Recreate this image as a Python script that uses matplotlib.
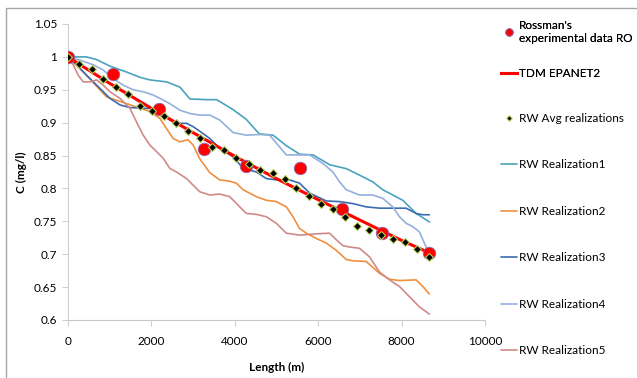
import matplotlib
matplotlib.use("Agg")
import matplotlib.pyplot as plt
from matplotlib.patches import Rectangle

plt.rcParams['font.family'] = ['Lato', 'DejaVu Sans']

# Rossman's experimental data
ro_x = [0, 1084, 2177, 3261, 4282, 5557, 6570, 7527, 8651]
ro_y = [1.0, 0.974, 0.921, 0.860, 0.834, 0.831, 0.768, 0.733, 0.702]

# TDM EPANET2
tdm_x = [0, 1000, 2000, 3000, 4000, 5000, 6000, 7000, 8000, 8667]
tdm_y = [1.0, 0.960, 0.922, 0.885, 0.849, 0.815, 0.783, 0.752, 0.721, 0.702]

# RW average of realizations
avg_x = [0, 278, 574, 852, 1155, 1450, 1730, 2024, 2304, 2591, 2885, 3165, 3459,
         3747, 4026, 4337, 4617, 4911, 5199, 5478, 5773, 6060, 6355, 6651, 6929,
         7215, 7512, 7790, 8086, 8373, 8651]
avg_y = [1.0, 0.989, 0.982, 0.967, 0.954, 0.944, 0.925, 0.917, 0.910, 0.900, 0.887,
         0.876, 0.863, 0.858, 0.846, 0.837, 0.828, 0.823, 0.814, 0.801, 0.788, 0.776,
         0.768, 0.756, 0.743, 0.737, 0.729, 0.723, 0.719, 0.708, 0.696]

r1_x = [0, 450, 690, 1010, 1410, 1730, 1970, 2370, 2690, 2930, 3330, 3570, 3960, 4280,
        4590, 4920, 5240, 5560, 5880, 6280, 6680, 7000, 7310, 7550, 8030, 8350, 8670]
r1_y = [1.0, 1.0, 0.996, 0.986, 0.977, 0.969, 0.965, 0.962, 0.954, 0.936, 0.935, 0.935,
        0.920, 0.905, 0.883, 0.881, 0.865, 0.852, 0.851, 0.836, 0.830, 0.820, 0.810,
        0.798, 0.782, 0.762, 0.749]

r2_x = [0, 450, 933, 1172, 1411, 1730, 1969, 2208, 2368, 2526, 2687, 2885, 3005, 3165,
        3404, 3643, 3883, 4042, 4201, 4521, 4760, 5000, 5239, 5398, 5557, 5718, 5957,
        6196, 6435, 6675, 6833, 7152, 7471, 7710, 7950, 8349, 8508, 8667]
r2_y = [1.0, 0.972, 0.939, 0.934, 0.929, 0.922, 0.917, 0.9065, 0.891, 0.876, 0.871,
        0.874, 0.866, 0.845, 0.824, 0.813, 0.811, 0.808, 0.798, 0.7875, 0.782, 0.780,
        0.772, 0.757, 0.739, 0.732, 0.724, 0.717, 0.706, 0.692, 0.690, 0.689, 0.671,
        0.662, 0.660, 0.661, 0.651, 0.6395]

r3_x = [0, 215, 455, 694, 1012, 1251, 1490, 1969, 2129, 2287, 2447, 2608, 2847, 3005,
        3165, 3404, 3643, 3962, 4201, 4521, 4760, 5000, 5318, 5557, 5797, 6196, 6515,
        6833, 7152, 7471, 8110, 8349, 8508, 8667]
r3_y = [1.0, 0.988, 0.972, 0.957, 0.937, 0.927, 0.923, 0.9215, 0.921, 0.914, 0.904,
        0.899, 0.899, 0.894, 0.887, 0.876, 0.861, 0.848, 0.831, 0.825, 0.815, 0.813,
        0.813, 0.808, 0.793, 0.781, 0.780, 0.777, 0.772, 0.770, 0.770, 0.762, 0.760,
        0.760]

r4_x = [0, 294, 612, 852, 1091, 1330, 1569, 1809, 2048, 2208, 2447, 2687, 2926, 3165,
        3404, 3643, 3962, 4282, 4600, 4840, 5079, 5239, 5478, 5797, 6115, 6355, 6515,
        6675, 6993, 7311, 7550, 7790, 7950, 8110, 8268, 8428, 8588, 8667]
r4_y = [1.0, 0.995, 0.988, 0.980, 0.967, 0.957, 0.950, 0.947, 0.942, 0.937, 0.929,
        0.919, 0.914, 0.9115, 0.9115, 0.904, 0.885, 0.881, 0.882, 0.881, 0.863, 0.851,
        0.851, 0.851, 0.838, 0.825, 0.810, 0.798, 0.790, 0.790, 0.785, 0.772, 0.757,
        0.747, 0.742, 0.734, 0.711, 0.704]

r5_x = [0, 135, 254, 373, 533, 694, 852, 1012, 1251, 1490, 1650, 1809, 1969, 2129,
        2287, 2447, 2608, 2847, 3005, 3165, 3404, 3643, 3883, 4122, 4282, 4521, 4760,
        5000, 5239, 5557, 5957, 6275, 6435, 6595, 6754, 6993, 7232, 7471, 7710, 7950,
        8189, 8428, 8667]
r5_y = [1.0, 0.9875, 0.972, 0.962, 0.962, 0.965, 0.957, 0.947, 0.937, 0.922, 0.901,
        0.881, 0.866, 0.856, 0.846, 0.8305, 0.825, 0.815, 0.805, 0.795, 0.790, 0.7915,
        0.7875, 0.772, 0.762, 0.7606, 0.757, 0.747, 0.732, 0.729, 0.731, 0.732, 0.722,
        0.713, 0.711, 0.709, 0.696, 0.673, 0.661, 0.651, 0.6355, 0.620, 0.609]

real_labels = ['RW Realization1', 'RW Realization2', 'RW Realization3',
               'RW Realization4', 'RW Realization5']
real_colors = ['#4aa3bd', '#ee9040', '#3b6cb0', '#93b0dc', '#d08a8a']

fig = plt.figure(figsize=(6.37, 3.78), dpi=100)
fig.patches.append(Rectangle((6.5 / 637, -0.1), 1.2, 1 - 7.5 / 378 + 0.1,
                             transform=fig.transFigure, fill=False,
                             edgecolor='#a6a6a6', lw=1.0))
ax = fig.add_axes([67.7 / 637, 1 - 320 / 378, (485 - 67.7) / 637, 296 / 378])

real_handles = []
for xs, ys, c, lab in zip([r1_x, r2_x, r3_x, r4_x, r5_x],
                          [r1_y, r2_y, r3_y, r4_y, r5_y], real_colors, real_labels):
    h, = ax.plot(xs, ys, color=c, lw=1.2, label=lab, zorder=2,
                 solid_joinstyle='round', solid_capstyle='round')
    real_handles.append(h)

h_tdm, = ax.plot(tdm_x, tdm_y, color='#ff0000', lw=2.2, label='TDM EPANET2', zorder=3,
                 solid_joinstyle='round')
h_ro, = ax.plot(ro_x, ro_y, ls='none', marker='o', ms=9, mfc='#ff0000',
                mec='#8a6fb0', mew=0.6, label="Rossman's\nexperimental data RO", zorder=4)
h_avg, = ax.plot(avg_x, avg_y, ls='none', marker='D', ms=4, mfc='black',
                 mec='#b8cf5a', mew=0.8, label='RW Avg realizations', zorder=5)

ax.set_xlim(0, 10000)
ax.set_ylim(0.6, 1.05)
ax.set_xticks([0, 2000, 4000, 6000, 8000, 10000])
yt = [0.6, 0.65, 0.7, 0.75, 0.8, 0.85, 0.9, 0.95, 1.0, 1.05]
ax.set_yticks(yt)
ax.set_yticklabels(['0.6', '0.65', '0.7', '0.75', '0.8', '0.85', '0.9', '0.95', '1', '1.05'])
ax.tick_params(axis='both', labelsize=8.5, colors='#d0d0d0', labelcolor='black',
               length=4.5, width=0.8)
ax.tick_params(axis='x', pad=7)
ax.tick_params(axis='y', pad=3)
for s in ['top', 'right']:
    ax.spines[s].set_visible(False)
ax.spines['left'].set_color('#d0d0d0')
ax.spines['bottom'].set_color('#c8c8c8')

ax.set_xlabel('Length (m)', fontsize=8.5, fontweight='bold')
ax.set_ylabel('C (mg/l)', fontsize=8.5, fontweight='bold')
ax.xaxis.set_label_coords(0.5, -0.141)
ax.yaxis.set_label_coords(-0.098, 0.5)

leg1 = fig.legend([h_ro, h_tdm], [h_ro.get_label(), h_tdm.get_label()],
                  loc='upper left', bbox_to_anchor=(501 / 637, 1 - 20 / 378),
                  frameon=False, fontsize=8.5, handlelength=1.35, handletextpad=0.15,
                  borderpad=0, borderaxespad=0, labelspacing=2.05, markerscale=0.6)
leg2 = fig.legend([h_avg] + real_handles, [h_avg.get_label()] + real_labels,
                  loc='upper left', bbox_to_anchor=(501 / 637, 1 - 113 / 378),
                  frameon=False, fontsize=8.5, handlelength=1.35, handletextpad=0.15,
                  borderpad=0, borderaxespad=0, labelspacing=3.0, markerscale=0.7)
fig.add_artist(leg1)

fig.savefig('out.png', dpi=100)
